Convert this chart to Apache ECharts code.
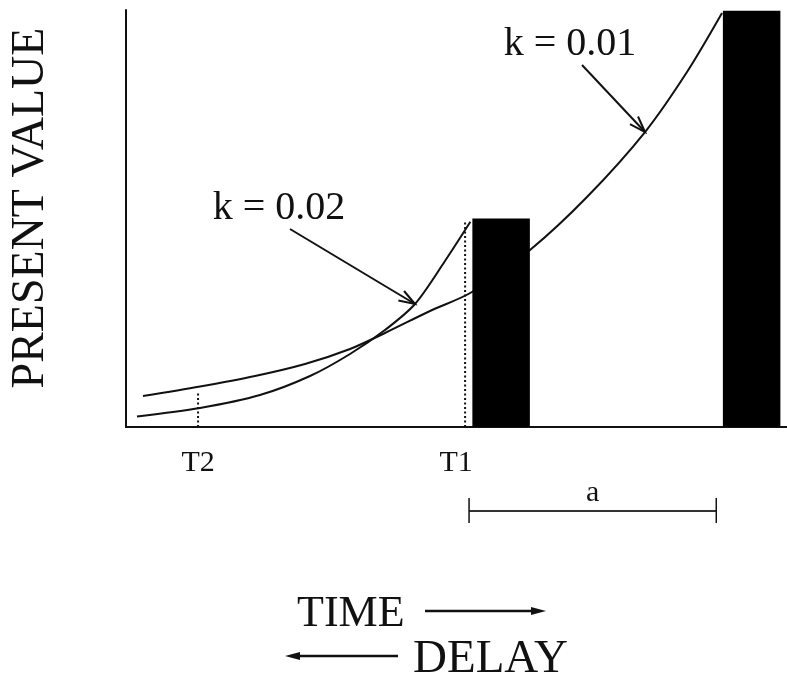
<!DOCTYPE html>
<html>
<head>
<meta charset="utf-8">
<script src="https://cdn.jsdelivr.net/npm/echarts@6/dist/echarts.min.js"></script>
<style>
  html, body { margin: 0; padding: 0; background: #fff; }
  #chart { width: 787px; height: 679px; }
</style>
</head>
<body>
<div id="chart"></div>
<script>
// Present value of a delayed reward, discounted at two rates (k = 0.01 and k = 0.02)
const curveK01 = [[2.57, 7.43], [11.20, 9.71], [19.52, 12.23], [27.08, 15.11], [33.89, 18.71],
  [39.18, 22.54], [45.99, 27.82], [52.34, 32.37], [61.12, 42.45], [69.74, 55.16],
  [78.52, 70.74], [84.87, 85.13], [90.17, 99.28]];
const curveK02 = [[1.66, 2.52], [11.20, 4.56], [20.27, 7.67], [27.84, 12.23], [33.89, 17.51],
  [39.18, 23.26], [43.72, 29.50], [48.26, 39.81], [52.1, 49.2]];

// Rewards: [start time, end time, amount]
const rewards = [[52.4, 61.1, 50.0], [90.3, 99.0, 99.8]];

// Choice points on the time axis and the height of their guide lines
const markerNames = ['T2', 'T1'];
const markerTimes = [10.9, 51.3];
const markerHeights = [8.3, 49.2];

// Interval "a" between the two rewards
const delayA = [51.9, 89.3];

// Curve labels and the curve point each arrow points at
const curveLabels = ['k = 0.01', 'k = 0.02'];
const labelTargets = [curveK01[10], curveK02[6]];

const FONT = "'Liberation Serif', 'DejaVu Serif', serif";
const INK = '#111';

const chart = echarts.init(document.getElementById('chart'), null, { renderer: 'canvas' });

function arrowHead(tip, from, len, ang) {
  const dx = from[0] - tip[0], dy = from[1] - tip[1];
  const d = Math.hypot(dx, dy);
  const ux = dx / d, uy = dy / d;
  const rot = (a) => [tip[0] + len * (ux * Math.cos(a) - uy * Math.sin(a)),
                      tip[1] + len * (ux * Math.sin(a) + uy * Math.cos(a))];
  return [rot(ang), tip, rot(-ang)];
}

// pixel offsets of each label's arrow tail and text, relative to the arrow tip / tail
const labelLayout = [
  { tail: [-63, -67], text: [-12, -21] },
  { tail: [-125, -75], text: [-11, -20] }
];
const markerLabelShift = [0, -9];

const option = {
  animation: false,
  backgroundColor: '#fff',
  grid: { left: 126, right: 0, top: 10, bottom: 252, containLabel: false },
  xAxis: {
    type: 'value', min: 0, max: 100,
    axisLine: { show: true, onZero: false, lineStyle: { color: INK, width: 2 } },
    axisTick: { show: false }, axisLabel: { show: false }, splitLine: { show: false }
  },
  yAxis: {
    type: 'value', min: 0, max: 100,
    axisLine: { show: true, onZero: false, lineStyle: { color: INK, width: 2 } },
    axisTick: { show: false }, axisLabel: { show: false }, splitLine: { show: false }
  },
  series: [
    {
      name: 'k = 0.01', type: 'line', data: curveK01, showSymbol: false,
      smooth: 0.3, z: 2,
      lineStyle: { color: INK, width: 2 }
    },
    {
      name: 'k = 0.02', type: 'line', data: curveK02, showSymbol: false,
      smooth: 0.3, z: 2,
      lineStyle: { color: INK, width: 2 }
    },
    {
      name: 'rewards', type: 'custom', z: 5,
      data: rewards,
      renderItem: function (params, api) {
        const p0 = api.coord([api.value(0), api.value(2)]);
        const p1 = api.coord([api.value(1), 0]);
        return {
          type: 'rect',
          shape: { x: p0[0], y: p0[1], width: p1[0] - p0[0], height: p1[1] - p0[1] },
          style: { fill: '#000' }
        };
      }
    },
    {
      name: 'markers', type: 'custom', z: 4,
      data: markerTimes.map((t, i) => [t, markerHeights[i], i]),
      renderItem: function (params, api) {
        const i = api.value(2);
        const base = api.coord([api.value(0), 0]);
        const top = api.coord([api.value(0), api.value(1)]);
        return {
          type: 'group',
          children: [
            {
              type: 'line',
              shape: { x1: base[0], y1: base[1], x2: top[0], y2: top[1] },
              style: { stroke: INK, lineWidth: 2, lineDash: [2, 2.5] }
            },
            {
              type: 'text',
              style: {
                text: markerNames[i], x: base[0] + markerLabelShift[i], y: base[1] + 36,
                align: 'center', verticalAlign: 'middle',
                font: '30px ' + FONT, fill: INK
              }
            }
          ]
        };
      }
    },
    {
      name: 'interval a', type: 'custom', z: 4,
      data: [delayA],
      renderItem: function (params, api) {
        const a = api.coord([api.value(0), 0]);
        const b = api.coord([api.value(1), 0]);
        const y = a[1] + 84;
        return {
          type: 'group',
          children: [
            { type: 'line', shape: { x1: a[0], y1: y, x2: b[0], y2: y },
              style: { stroke: '#333', lineWidth: 2 } },
            { type: 'line', shape: { x1: a[0], y1: y - 13, x2: a[0], y2: y + 12 },
              style: { stroke: INK, lineWidth: 1.5 } },
            { type: 'line', shape: { x1: b[0], y1: y - 13, x2: b[0], y2: y + 12 },
              style: { stroke: INK, lineWidth: 1.5 } },
            { type: 'text', style: {
                text: 'a', x: (a[0] + b[0]) / 2, y: y - 18,
                align: 'center', verticalAlign: 'middle',
                font: '30px ' + FONT, fill: INK } }
          ]
        };
      }
    },
    {
      name: 'curve labels', type: 'custom', z: 6,
      data: labelTargets.map((p, i) => [p[0], p[1], i]),
      renderItem: function (params, api) {
        const i = api.value(2);
        const tip = api.coord([api.value(0), api.value(1)]);
        const L = labelLayout[i];
        const tail = [tip[0] + L.tail[0], tip[1] + L.tail[1]];
        return {
          type: 'group',
          children: [
            { type: 'line', shape: { x1: tail[0], y1: tail[1], x2: tip[0], y2: tip[1] },
              style: { stroke: INK, lineWidth: 2 } },
            { type: 'polyline', shape: { points: arrowHead(tip, tail, 17, 0.33) },
              style: { stroke: INK, lineWidth: 2, fill: null } },
            { type: 'text', style: {
                text: curveLabels[i], x: tail[0] + L.text[0], y: tail[1] + L.text[1],
                align: 'center', verticalAlign: 'middle',
                font: '40px ' + FONT, fill: INK } }
          ]
        };
      }
    }
  ],
  graphic: [
    {
      type: 'text', x: 31, y: 208, rotation: Math.PI / 2,
      style: { text: 'PRESENT VALUE', align: 'center', verticalAlign: 'middle',
               font: '46px ' + FONT, fill: INK }
    },
    {
      type: 'text', x: 297, y: 614,
      style: { text: 'TIME', align: 'left', verticalAlign: 'middle', font: '44px ' + FONT, fill: INK }
    },
    { type: 'line', shape: { x1: 425, y1: 611, x2: 534, y2: 611 }, style: { stroke: INK, lineWidth: 2.5 } },
    { type: 'polygon', shape: { points: [[531, 607], [546, 611], [531, 615]] }, style: { fill: INK } },
    {
      type: 'text', x: 413, y: 660,
      style: { text: 'DELAY', align: 'left', verticalAlign: 'middle', font: '47px ' + FONT, fill: INK }
    },
    { type: 'line', shape: { x1: 297, y1: 656, x2: 398, y2: 656 }, style: { stroke: INK, lineWidth: 2.5 } },
    { type: 'polygon', shape: { points: [[300, 652], [285, 656], [300, 660]] }, style: { fill: INK } }
  ]
};

chart.setOption(option);
</script>
</body>
</html>
